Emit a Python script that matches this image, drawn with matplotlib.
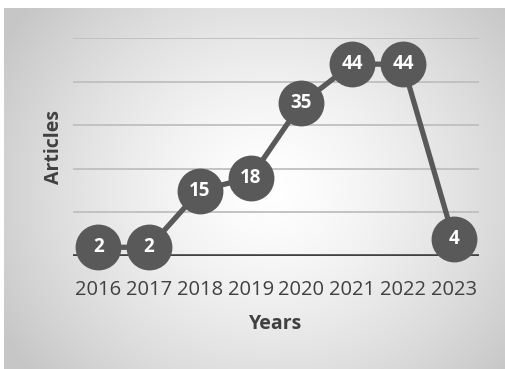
import numpy as np
import matplotlib
matplotlib.use("Agg")
import matplotlib.pyplot as plt

years = ["2016", "2017", "2018", "2019", "2020", "2021", "2022", "2023"]
articles = [2, 2, 15, 18, 35, 44, 44, 4]
grid_ticks = [10, 20, 30, 40, 50]

plt.rcParams['font.family'] = ['Open Sans', 'DejaVu Sans']

W, H = 505, 369
fig = plt.figure(figsize=(W / 100, H / 100), dpi=100)
fig.patch.set_facecolor("white")

# background radial gradient (chart area)
bx0, by0 = 4, 8
bg = fig.add_axes([bx0 / W, 0, (W - bx0) / W, (H - by0) / H])
bw, bh = W - bx0, H - by0
yy, xx = np.mgrid[0:bh, 0:bw]
cx, cy = 265, 180
d = np.sqrt(((xx - cx) / (bw * 0.62)) ** 2 + ((yy - cy) / (bh * 0.78)) ** 2)
d = np.clip(d, 0, 1)
v = 1.0 - (1.0 - 0.78) * d ** 1.4
img = np.dstack([v, v, v])
bg.imshow(img, aspect="auto", extent=[0, 1, 0, 1], origin="upper")
bg.set_axis_off()

left, right, top, base = 73, 479, 38, 256
ax = fig.add_axes([left / W, (H - base) / H, (right - left) / W, (base - top) / H])
ax.set_facecolor("none")
x = np.arange(len(years))
ax.set_xlim(-0.5, len(years) - 0.5)
ax.set_ylim(0, 50)

for g in grid_ticks:
    ax.axhline(g, color="#bfbfbf", lw=1.3, zorder=1)
ax.axhline(0, color="#404040", lw=2.6, zorder=2)

ax.plot(x, articles, color="#595959", lw=3.8, zorder=3, clip_on=False,
        marker="o", markersize=32, markerfacecolor="#595959",
        markeredgecolor="#595959", solid_capstyle="round")
for xi, val in zip(x, articles):
    ax.text(xi, val, str(val), color="white", fontsize=13.5, fontweight="bold",
            ha="center", va="center", zorder=4)

for s in ax.spines.values():
    s.set_visible(False)
ax.set_yticks([])
ax.set_xticks(x)
ax.set_xticklabels(years, fontsize=14.5, color="#404040")
ax.tick_params(axis="x", length=0, pad=17)

fig.text(276 / W, 1 - 324 / H, "Years", fontsize=14, fontweight="bold",
         color="#404040", ha="center", va="center")
fig.text(54 / W, 1 - 147 / H, "Articles", fontsize=14, fontweight="bold",
         color="#404040", ha="center", va="center", rotation=90)

fig.savefig("out.png", dpi=100)
